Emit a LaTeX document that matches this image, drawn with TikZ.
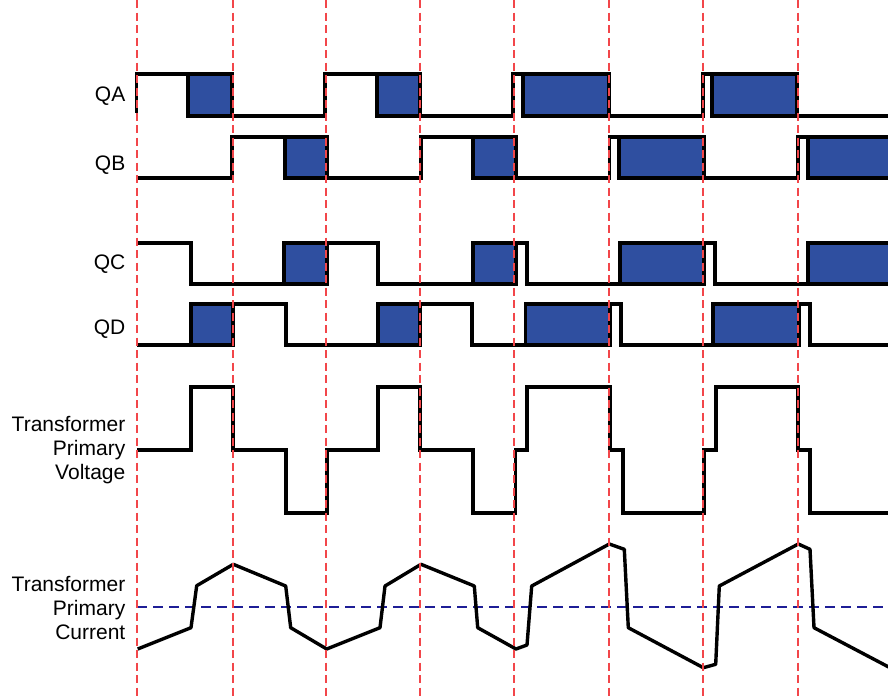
\documentclass[tikz,border=0pt]{standalone}
\usepackage{fontspec}
\setmainfont{Liberation Sans}
\definecolor{gridred}{RGB}{242,70,74}
\definecolor{zeroblue}{RGB}{30,30,150}
\definecolor{boxblue}{RGB}{47,79,160}
\tikzset{
  wave/.style={line width=3.2pt, line join=miter, black},
  curwave/.style={line width=3.4pt, line join=round, black},
  condbox/.style={line width=3.8pt, fill=boxblue, draw=black, line join=miter},
  gridline/.style={gridred, line width=1.5pt, dash pattern=on 8pt off 4.5pt},
  zeroline/.style={zeroblue, line width=1.3pt, dash pattern=on 10pt off 6pt},
  sig/.style={font=\fontsize{21}{23.7}\selectfont, inner sep=0pt, align=right}
}
\begin{document}
\begin{tikzpicture}[x=1pt,y=-1pt]
\path[use as bounding box] (0,0) rectangle (888,696);
\clip (0,0) rectangle (888,696);

% labels
\node[sig, anchor=base east] (lqa) at (125.5,101) {QA};
\node[sig, anchor=base east] (lqb) at (125.5,170.5) {QB};
\node[sig, anchor=base east] (lqc) at (125.5,269.5) {QC};
\node[sig, anchor=base east] (lqd) at (125.5,334.5) {QD};
\node[sig, anchor=north east] (lv) at (125.5,416.5) {Transformer\\Primary\\Voltage};
\node[sig, anchor=north east] (li) at (125.5,576.5) {Transformer\\Primary\\Current};

% zero line of current
\draw[zeroline] (137,607) -- (890,607);

% conduction boxes
\foreach \a/\b in {188/232,377/420,523/609,712/797}
  \draw[condbox] (\a,74) rectangle (\b,116);
\foreach \a/\b in {285/327,473/516,619/704,808/895}
  \draw[condbox] (\a,137) rectangle (\b,178);
\foreach \a/\b in {284/327,473/516,620/704,808/895}
  \draw[condbox] (\a,243) rectangle (\b,284);
\foreach \a/\b in {191/233,378/420,525.5/610,713/799}
  \draw[condbox] (\a,304) rectangle (\b,345);

% QA
\draw[wave] (136.5,113) -- (136.5,74) -- (232,74) -- (232,116) -- (325,116) -- (325,74)
  -- (420,74) -- (420,116) -- (513,116) -- (513,74) -- (523,74);
\draw[wave] (609,116) -- (703,116) -- (703,74) -- (712,74);
\draw[wave] (797,116) -- (890,116);
% QB
\draw[wave] (137,178) -- (232,178) -- (232,137) -- (327,137) -- (327,178) -- (421,178)
  -- (421,137) -- (516,137) -- (516,178) -- (609.5,178) -- (609.5,137) -- (619,137);
\draw[wave] (704,178) -- (798,178) -- (798,137) -- (808,137);
% QC
\draw[wave] (137,243) -- (191,243) -- (191,284) -- (284,284);
\draw[wave] (327,243) -- (378,243) -- (378,284) -- (473,284);
\draw[wave] (516,243) -- (527,243) -- (527,284) -- (620,284);
\draw[wave] (704,243) -- (715,243) -- (715,284) -- (808,284);
% QD
\draw[wave] (137,345) -- (191,345);
\draw[wave] (233,304) -- (286,304) -- (286,345) -- (378,345);
\draw[wave] (420,304) -- (472,304) -- (472,345) -- (525.5,345);
\draw[wave] (610,304) -- (621,304) -- (621,345) -- (713,345);
\draw[wave] (799,304) -- (810,304) -- (810,345) -- (890,345);

% Transformer primary voltage
\draw[wave] (137,450) -- (191,450) -- (191,387) -- (233,387) -- (233,450) -- (286,450)
  -- (286,513) -- (327,513) -- (327,450) -- (378,450) -- (378,387) -- (420,387)
  -- (420,450) -- (473,450) -- (473,513) -- (515.5,513) -- (515.5,450) -- (527,450)
  -- (527,387) -- (610,387) -- (610,450) -- (623,450) -- (623,513) -- (704,513)
  -- (704,450) -- (716,450) -- (716,387) -- (798,387) -- (798,450) -- (810,450)
  -- (810,513) -- (890,513);

% Transformer primary current
\draw[curwave] (137.7,649) -- (191,627.7) -- (196.7,585.7) -- (233.3,564.3) -- (285.7,586)
  -- (290.7,627.7) -- (326.7,649) -- (380,627.7) -- (385,586) -- (421,564.3)
  -- (474.3,586) -- (477.7,627.7) -- (516,649) -- (527,645) -- (531.7,586)
  -- (609.3,544) -- (624.3,549.3) -- (628.3,627.7) -- (703.3,667.7) -- (715.7,664.3)
  -- (719.3,586) -- (798.3,544) -- (810,549.3) -- (814,627.7) -- (890,667.7);

% timing grid
\foreach \x in {137,233,326,420,514,609,703,798}
  \draw[gridline] (\x,0) -- (\x,696);
\end{tikzpicture}
\end{document}
